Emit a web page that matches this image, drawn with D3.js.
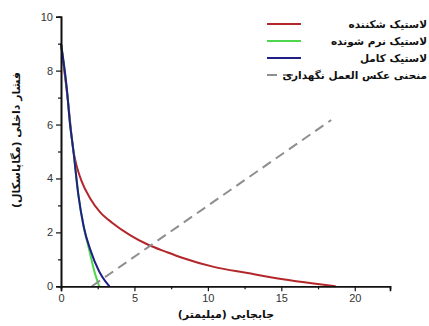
<!DOCTYPE html>
<html>
<head>
<meta charset="utf-8">
<script src="https://cdn.jsdelivr.net/npm/d3@7"></script>
<style>
  html, body { margin: 0; padding: 0; background: #fff; overflow: hidden; }
  svg { display: block; }
</style>
</head>
<body>
<svg id="chart"></svg>
<script>
// ── Data ─────────────────────────────────────────────────────────────────────
const brittleX = [0, 0.45, 0.85, 1.1, 1.4, 2.0, 2.66, 3.5, 4.7, 5.9, 7.2, 8.3, 10.4, 12.7, 15, 17.2, 18.7];
const brittleY = [9, 7.0, 5.0, 4.4, 3.9, 3.25, 2.75, 2.35, 1.9, 1.55, 1.27, 1.05, 0.72, 0.49, 0.27, 0.1, 0];

const softeningX = [0, 0.4, 0.6, 0.85, 1.18, 1.55, 1.9, 2.25, 2.6];
const softeningY = [9, 7.3, 6.1, 5.0, 3.4, 2.2, 1.4, 0.6, 0];

const perfectX = [0, 0.4, 0.6, 0.85, 1.18, 1.55, 2.0, 2.6, 3.0, 3.3];
const perfectY = [9, 7.3, 6.1, 5.0, 3.4, 2.2, 1.35, 0.55, 0.2, 0];

const supportX = [2.1, 18.4];
const supportY = [0, 6.17];

const seriesNames = [
  'لاستیک شکننده',
  'لاستیک نرم شونده',
  'لاستیک کامل',
  'منحنی عکس العمل نگهداری'
];

const xTicks = [0, 5, 10, 15, 20];
const xMinor = [2.5, 7.5, 12.5, 17.5];
const yTicks = [0, 2, 4, 6, 8, 10];
const yMinor = [1, 3, 5, 7, 9];

const xTitle = 'جابجایی (میلیمتر)';
const yTitle = 'فشار داخلی (مگاپاسکال)';

// ── Layout ───────────────────────────────────────────────────────────────────
const W = 429, H = 326;
const svg = d3.select('#chart').attr('width', W).attr('height', H);

const x = d3.scaleLinear().domain([0, 22.4]).range([61, 390]);
const y = d3.scaleLinear().domain([0, 10]).range([286.3, 16.7]);

const persianFont = '"DejaVu Sans", sans-serif';
const tickFont = '"Liberation Sans", Arial, sans-serif';

const zip = (xs, ys) => xs.map((v, i) => [v, ys[i]]);

const line = d3.line()
  .x(d => x(d[0]))
  .y(d => y(d[1]))
  .curve(d3.curveMonotoneX);

// ── Series ───────────────────────────────────────────────────────────────────
const series = [
  { pts: zip(brittleX, brittleY),     color: '#b3272b', dash: null },
  { pts: zip(softeningX, softeningY), color: '#4fd64f', dash: null },
  { pts: zip(perfectX, perfectY),     color: '#1f1f85', dash: null },
  { pts: zip(supportX, supportY),     color: '#8e8e8e', dash: '10,6' }
];

svg.append('g')
  .selectAll('path')
  .data(series)
  .join('path')
    .attr('d', d => line(d.pts))
    .attr('fill', 'none')
    .attr('stroke', d => d.color)
    .attr('stroke-width', 2)
    .attr('stroke-dasharray', d => d.dash);

// ── Axes ─────────────────────────────────────────────────────────────────────
const xAxis = svg.append('g').attr('transform', `translate(0,${y(0)})`)
  .call(d3.axisBottom(x).tickValues(xTicks).tickSize(5).tickPadding(3).tickFormat(d3.format('d')));
const xAxisMinor = svg.append('g').attr('transform', `translate(0,${y(0)})`)
  .call(d3.axisBottom(x).tickValues(xMinor).tickSize(3).tickFormat(''));

const yAxis = svg.append('g').attr('transform', `translate(${x(0)},0)`)
  .call(d3.axisLeft(y).tickValues(yTicks).tickSize(5).tickPadding(3).tickFormat(d3.format('d')));
const yAxisMinor = svg.append('g').attr('transform', `translate(${x(0)},0)`)
  .call(d3.axisLeft(y).tickValues(yMinor).tickSize(3).tickFormat(''));

[xAxis, xAxisMinor, yAxis, yAxisMinor].forEach(g => {
  g.select('.domain').attr('stroke', '#111').attr('stroke-width', 1.6);
  g.selectAll('.tick line').attr('stroke', '#111').attr('stroke-width', 1.2);
  g.selectAll('.tick text')
    .attr('fill', '#333')
    .style('font-family', tickFont)
    .style('font-size', '11px');
});

// ── Axis titles ──────────────────────────────────────────────────────────────
svg.append('text')
  .attr('x', 226).attr('y', 318)
  .attr('text-anchor', 'middle')
  .style('font-family', persianFont)
  .style('font-weight', 'bold')
  .style('font-size', '11px')
  .attr('fill', '#111')
  .text(xTitle);

svg.append('text')
  .attr('transform', 'translate(20,140) rotate(-90)')
  .attr('text-anchor', 'middle')
  .style('font-family', persianFont)
  .style('font-weight', 'bold')
  .style('font-size', '11px')
  .attr('fill', '#111')
  .text(yTitle);

// ── Legend ───────────────────────────────────────────────────────────────────
const legendRows = [24, 41, 58, 75];
const legend = svg.append('g')
  .selectAll('g')
  .data(series)
  .join('g')
    .attr('transform', (d, i) => `translate(0,${legendRows[i]})`);

legend.append('line')
  .attr('x1', 267).attr('x2', 301)
  .attr('stroke', d => d.color)
  .attr('stroke-width', 2)
  .attr('stroke-dasharray', d => d.dash);

legend.append('text')
  .attr('x', 427).attr('y', 4)
  .attr('text-anchor', 'end')
  .style('font-family', persianFont)
  .style('font-weight', 'bold')
  .style('font-size', '10.5px')
  .attr('fill', '#111')
  .text((d, i) => seriesNames[i]);
</script>
</body>
</html>
